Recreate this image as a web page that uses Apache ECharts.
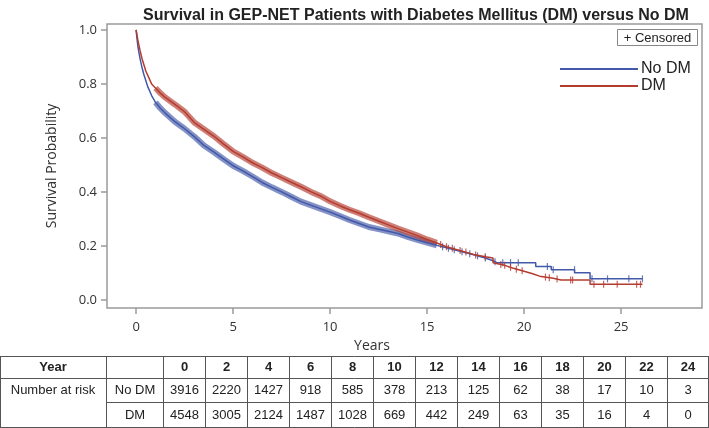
<!DOCTYPE html>
<html>
<head>
<meta charset="utf-8">
<title>Survival in GEP-NET Patients with DM versus No DM</title>
<script src="https://cdn.jsdelivr.net/npm/echarts@6/dist/echarts.min.js"></script>
<style>
  html, body { margin: 0; padding: 0; background: #fff; }
  #chart { width: 709px; height: 428px; }
</style>
</head>
<body>
<div id="chart"></div>
<script>
// Kaplan-Meier curves: years / survival probability
var noDmTime = [0, 0.05, 0.1, 0.2, 0.3, 0.4, 0.6, 0.8, 1.0, 1.25, 1.5, 2.0, 2.5, 3.0, 3.5, 4.0, 4.5, 5.0, 5.5, 6.0, 6.5, 7.0, 7.5, 8.0, 8.5, 9.0, 9.5, 10.0, 10.5, 11.0, 11.5, 12.0, 12.5, 13.0, 13.5, 14.0, 14.5, 15.0, 15.5, 16.0, 16.5, 17.0, 17.4, 18.0, 18.4, 18.6, 20.6, 20.6, 21.4, 21.4, 22.6, 22.6, 23.4, 23.4, 26.1];
var noDmSurv = [1.0, 0.965, 0.935, 0.895, 0.862, 0.835, 0.79, 0.757, 0.732, 0.71, 0.692, 0.66, 0.634, 0.605, 0.572, 0.548, 0.522, 0.497, 0.478, 0.457, 0.435, 0.417, 0.4, 0.382, 0.364, 0.351, 0.338, 0.325, 0.311, 0.296, 0.283, 0.27, 0.262, 0.254, 0.246, 0.233, 0.222, 0.212, 0.202, 0.193, 0.184, 0.175, 0.167, 0.155, 0.145, 0.138, 0.138, 0.124, 0.124, 0.112, 0.112, 0.101, 0.101, 0.078, 0.078];
var dmTime = [0, 0.05, 0.1, 0.2, 0.3, 0.5, 0.8, 1.0, 1.25, 1.5, 2.0, 2.5, 3.0, 3.5, 4.0, 4.5, 5.0, 5.5, 6.0, 6.5, 7.0, 7.5, 8.0, 8.5, 9.0, 9.5, 10.0, 10.5, 11.0, 11.5, 12.0, 12.5, 13.0, 13.5, 14.0, 14.5, 15.0, 15.5, 16.0, 16.5, 17.0, 17.4, 18.0, 18.4, 18.4, 19.0, 19.4, 20.0, 20.4, 20.8, 21.5, 21.9, 23.4, 23.4, 26.1];
var dmSurv = [1.0, 0.98, 0.958, 0.925, 0.895, 0.848, 0.8, 0.785, 0.766, 0.75, 0.724, 0.697, 0.657, 0.632, 0.607, 0.578, 0.55, 0.53, 0.508, 0.49, 0.47, 0.453, 0.436, 0.419, 0.401, 0.385, 0.365, 0.349, 0.334, 0.321, 0.306, 0.292, 0.278, 0.264, 0.251, 0.238, 0.224, 0.211, 0.197, 0.187, 0.177, 0.168, 0.16, 0.155, 0.138, 0.128, 0.118, 0.106, 0.098, 0.088, 0.08, 0.074, 0.074, 0.058, 0.058];

// censor marks that stand apart on the tail
var noDmCensor = [15.8, 16.1, 16.4, 16.8, 17.2, 17.6, 18.0, 18.5, 18.9, 19.3, 19.7, 21.2, 21.5, 22.6, 23.5, 24.3, 25.4, 26.1];
var dmCensor = [15.7, 16.0, 16.3, 16.7, 17.0, 17.5, 18.0, 18.8, 19.0, 19.3, 19.6, 19.9, 21.1, 21.3, 21.7, 22.4, 22.5, 23.6, 24.1, 24.8, 25.8, 26.0];

var xTicks = [0, 5, 10, 15, 20, 25];
var yTicks = [0, 0.2, 0.4, 0.6, 0.8, 1.0];

// number at risk table
var riskYears = [0, 2, 4, 6, 8, 10, 12, 14, 16, 18, 20, 22, 24];
var noDmRisk = [3916, 2220, 1427, 918, 585, 378, 213, 125, 62, 38, 17, 10, 3];
var dmRisk = [4548, 3005, 2124, 1487, 1028, 669, 442, 249, 63, 35, 16, 4, 0];

var blue = '#4258a8';
var red = '#b43c2f';

function pairs(t, s) {
  return t.map(function (v, i) { return [v, s[i]]; });
}
// dense censoring shows as a thick band between these years
function band(t, s) {
  return pairs(t, s).filter(function (p) { return p[0] >= 1.0 && p[0] <= 15.5; });
}
function surviveAt(t, s, x) {
  for (var i = 1; i < t.length; i++) {
    if (x <= t[i]) {
      if (t[i] === t[i - 1]) return s[i];
      return s[i - 1] + (s[i] - s[i - 1]) * (x - t[i - 1]) / (t[i] - t[i - 1]);
    }
  }
  return s[s.length - 1];
}
function censorMarks(times, t, s) {
  return times.map(function (x) { return [x, surviveAt(t, s, x)]; });
}

var tableFont = '13px "Liberation Sans", Arial, sans-serif';
var tableBold = 'bold 13px "Liberation Sans", Arial, sans-serif';
var lineColor = '#555';
var textColor = '#222';

function buildTable() {
  var els = [];
  var top = 356, r1 = 378, r2 = 402, bottom = 427;
  var cols = [0.5, 106.5, 163.5];
  for (var i = 1; i <= riskYears.length; i++) cols.push(163.5 + 42 * i);
  cols[cols.length - 1] = 708.5;
  function line(x1, y1, x2, y2) {
    els.push({ type: 'line', silent: true, shape: { x1: x1, y1: y1, x2: x2, y2: y2 },
      style: { stroke: lineColor, lineWidth: 1 } });
  }
  function text(str, x, y, font) {
    els.push({ type: 'text', silent: true, x: x, y: y,
      style: { text: str, font: font, fill: textColor, textAlign: 'center', textVerticalAlign: 'middle' } });
  }
  line(0.5, top + 0.5, 708.5, top + 0.5);
  line(0.5, r1 + 0.5, 708.5, r1 + 0.5);
  line(106.5, r2 + 0.5, 708.5, r2 + 0.5);
  line(0.5, bottom + 0.5, 708.5, bottom + 0.5);
  cols.forEach(function (x) { line(x, top, x, bottom + 1); });

  text('Year', 53, 367.5, tableBold);
  text('Number at risk', 53, 390.5, tableFont);
  text('No DM', 135, 390.5, tableFont);
  text('DM', 135, 415, tableFont);
  riskYears.forEach(function (y, i) {
    var cx = (cols[i + 2] + cols[i + 3]) / 2;
    text(String(y), cx, 367.5, tableBold);
    text(String(noDmRisk[i]), cx, 390.5, tableFont);
    text(String(dmRisk[i]), cx, 415, tableFont);
  });
  return els;
}

var chart = echarts.init(document.getElementById('chart'));

var option = {
  animation: false,
  backgroundColor: '#fff',
  title: {
    text: 'Survival in GEP-NET Patients with Diabetes Mellitus (DM) versus No DM',
    left: 411,
    top: 3,
    textAlign: 'center',
    textStyle: { fontFamily: '"Liberation Sans", Arial, sans-serif', fontWeight: 'bold', fontSize: 16, color: '#222' }
  },
  legend: {
    data: ['No DM', 'DM'],
    orient: 'vertical',
    left: 555,
    top: 56,
    itemWidth: 78,
    itemHeight: 2,
    itemGap: 1,
    icon: 'rect',
    textStyle: { fontFamily: '"Liberation Sans", Arial, sans-serif', fontSize: 16, lineHeight: 16, color: '#222', padding: [0, 0, 0, -2] }
  },
  grid: {
    left: 107, right: 7, top: 24, bottom: 120,
    show: true, borderColor: '#9a9a9a', borderWidth: 1.5, backgroundColor: '#fff'
  },
  xAxis: {
    type: 'value',
    min: -1.5,
    max: 29.17,
    name: 'Years',
    nameLocation: 'middle',
    nameGap: 31,
    nameTextStyle: { fontFamily: '"Open Sans", sans-serif', fontSize: 14, color: '#333', padding: [0, 65, 0, 0] },
    axisLine: { show: false, onZero: false },
    splitLine: { show: false },
    axisTick: { show: true, length: 6, lineStyle: { color: '#9a9a9a', width: 1.5 }, customValues: xTicks },
    axisLabel: { margin: 13, fontFamily: '"Open Sans", sans-serif', fontSize: 13, color: '#333', customValues: xTicks }
  },
  yAxis: {
    type: 'value',
    min: -0.03,
    max: 1.022,
    name: 'Survival Probability',
    nameLocation: 'middle',
    nameGap: 48,
    nameTextStyle: { fontFamily: '"Open Sans", sans-serif', fontSize: 14, color: '#333' },
    axisLine: { show: false, onZero: false },
    splitLine: { show: false },
    axisTick: { show: true, length: 6, lineStyle: { color: '#9a9a9a', width: 1.5 }, customValues: yTicks },
    axisLabel: {
      margin: 10, fontFamily: '"Open Sans", sans-serif', fontSize: 13, color: '#333', customValues: yTicks,
      formatter: function (v) { return v.toFixed(1); }
    }
  },
  series: [
    {
      name: 'No DM band', type: 'line', data: band(noDmTime, noDmSurv), symbol: 'none',
      lineStyle: { color: blue, width: 6, opacity: 0.65 }, silent: true, z: 2
    },
    {
      name: 'DM band', type: 'line', data: band(dmTime, dmSurv), symbol: 'none',
      lineStyle: { color: red, width: 6, opacity: 0.65 }, silent: true, z: 3
    },
    {
      name: 'No DM', type: 'line', data: pairs(noDmTime, noDmSurv), symbol: 'none',
      itemStyle: { color: blue }, lineStyle: { color: blue, width: 1.5 }, z: 4
    },
    {
      name: 'DM', type: 'line', data: pairs(dmTime, dmSurv), symbol: 'none',
      itemStyle: { color: red }, lineStyle: { color: red, width: 1.5 }, z: 5
    },
    {
      name: 'No DM censored', type: 'scatter', data: censorMarks(noDmCensor, noDmTime, noDmSurv),
      symbol: 'rect', symbolSize: [1.2, 7], itemStyle: { color: blue }, silent: true, z: 4
    },
    {
      name: 'DM censored', type: 'scatter', data: censorMarks(dmCensor, dmTime, dmSurv),
      symbol: 'rect', symbolSize: [1.2, 7], itemStyle: { color: red }, silent: true, z: 5
    }
  ],
  graphic: [
    {
      type: 'group', left: 617, top: 29, silent: true,
      children: [
        { type: 'rect', shape: { x: 0.5, y: 0.5, width: 80, height: 16 }, style: { fill: '#fff', stroke: '#888', lineWidth: 1 } },
        { type: 'text', x: 40.5, y: 9, style: { text: '+ Censored', font: '13px "Liberation Sans", Arial, sans-serif', fill: '#222', textAlign: 'center', textVerticalAlign: 'middle' } }
      ]
    }
  ].concat(buildTable())
};

chart.setOption(option);
</script>
</body>
</html>
